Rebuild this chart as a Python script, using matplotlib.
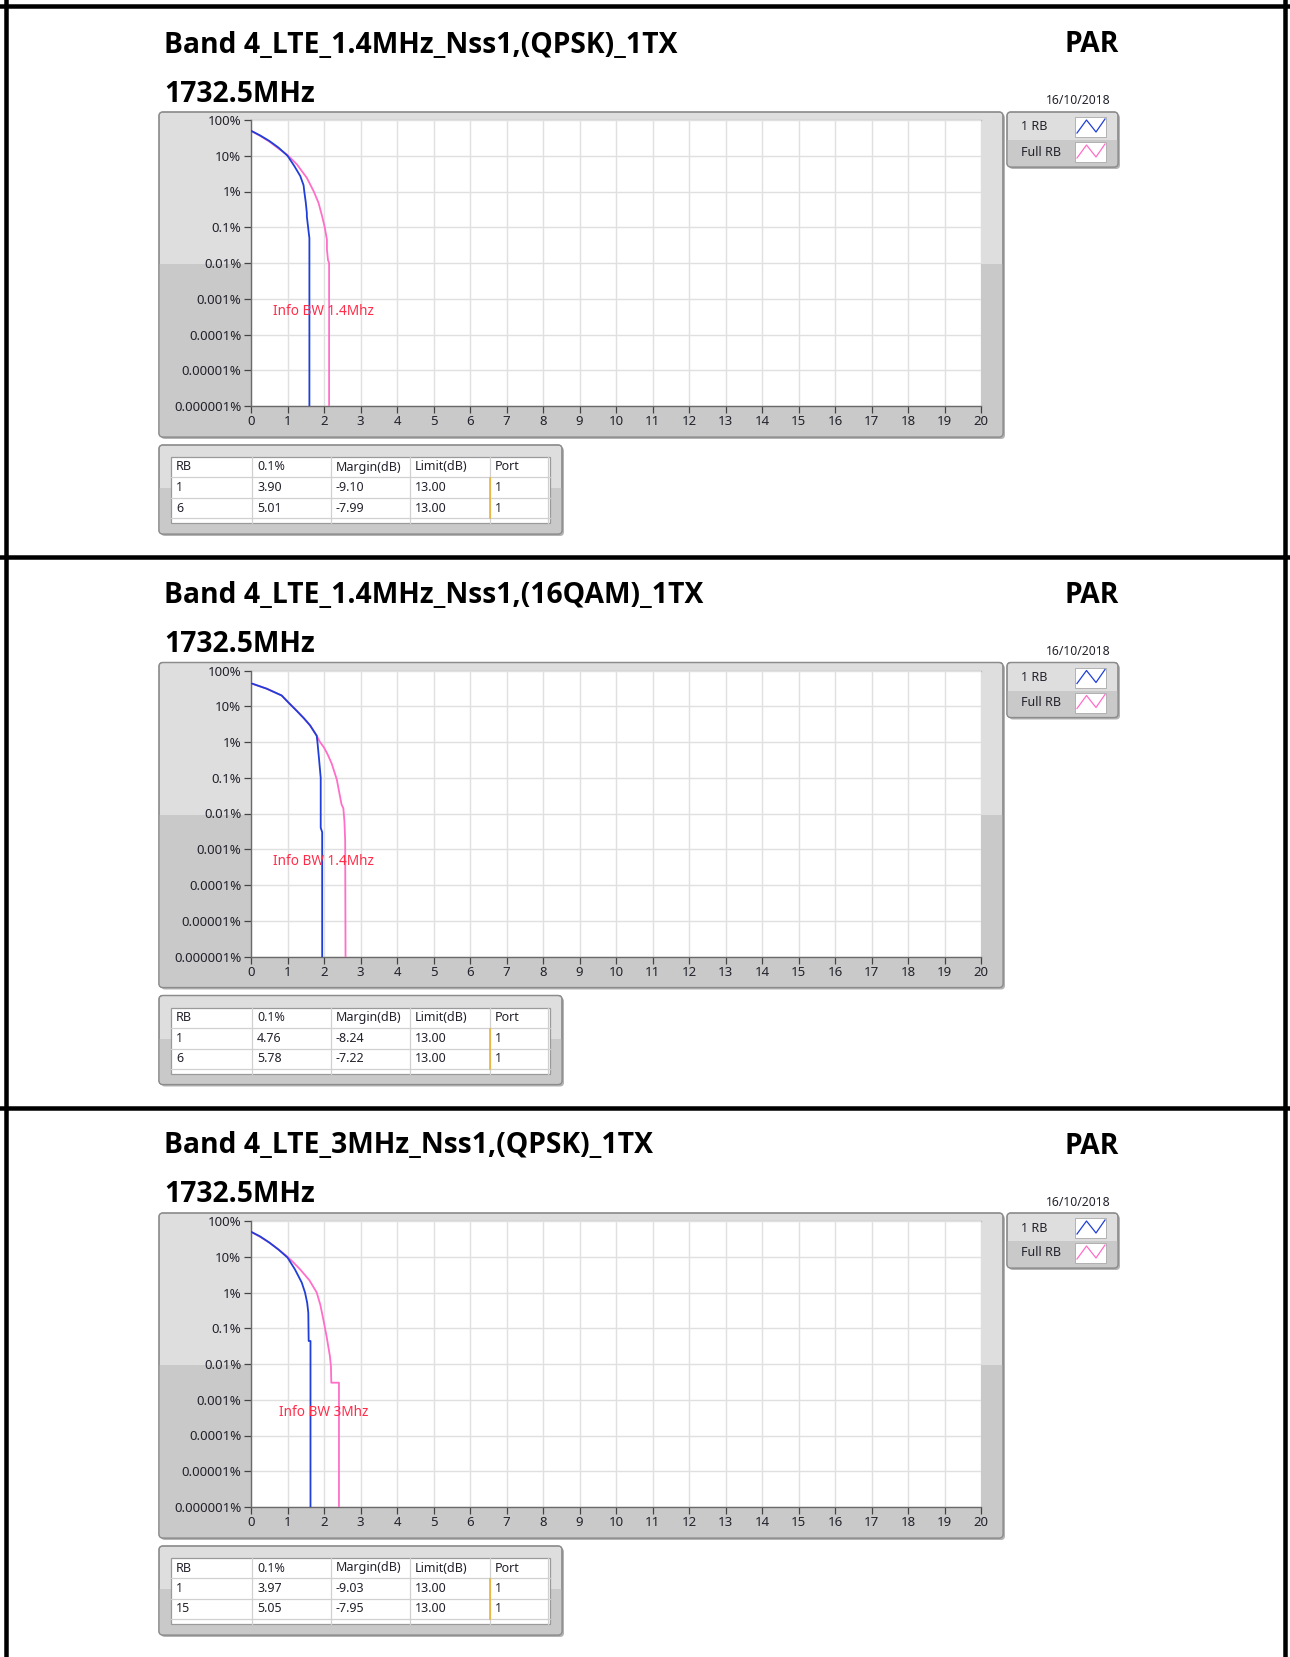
import matplotlib
matplotlib.use('Agg')
import matplotlib.pyplot as plt
from matplotlib.patches import FancyBboxPatch, Rectangle
from matplotlib.lines import Line2D

W, H = 1290, 1657
DPI = 100

# ---------------- data ----------------
titles = ["Band 4_LTE_1.4MHz_Nss1,(QPSK)_1TX",
          "Band 4_LTE_1.4MHz_Nss1,(16QAM)_1TX",
          "Band 4_LTE_3MHz_Nss1,(QPSK)_1TX"]
freq_label = "1732.5MHz"
right_label = "PAR"
date_label = "16/10/2018"
series_names = ["1 RB", "Full RB"]
info_labels = ["Info BW 1.4Mhz", "Info BW 1.4Mhz", "Info BW 3Mhz"]
info_x = [0.6, 0.6, 0.78]
info_y = 4.4e-4

# Section 1 (QPSK 1.4MHz)
s1_rb1_x = [0, 0.25, 0.5, 0.75, 1.0, 1.19, 1.35, 1.44, 1.46, 1.50, 1.53, 1.53, 1.59, 1.60, 1.60]
s1_rb1_y = [50, 37, 26, 17, 10, 5.1, 2.7, 1.5, 1.0, 0.5, 0.25, 0.2, 0.06, 0.05, 1e-6]
s1_full_x = [0, 0.25, 0.5, 0.75, 1.0, 1.26, 1.53, 1.72, 1.85, 1.95, 2.02, 2.08, 2.08, 2.11, 2.14, 2.14]
s1_full_y = [50, 36, 25, 16, 10.5, 5.7, 2.4, 1.0, 0.48, 0.2, 0.1, 0.045, 0.024, 0.012, 0.01, 1e-6]

# Section 2 (16QAM 1.4MHz)
s2_rb1_x = [0, 0.43, 0.84, 1.05, 1.25, 1.45, 1.62, 1.80, 1.82, 1.86, 1.91, 1.91, 1.95, 1.95]
s2_rb1_y = [44, 31, 20, 12, 7.5, 4.6, 2.9, 1.5, 1.0, 0.37, 0.1, 0.004, 0.003, 1e-6]
s2_full_x = [0, 0.43, 0.84, 1.05, 1.25, 1.45, 1.62, 1.80, 1.89, 2.0, 2.1, 2.21, 2.35, 2.48, 2.53, 2.56, 2.58, 2.59]
s2_full_y = [44, 31, 20, 12, 7.5, 4.6, 2.9, 1.5, 1.0, 0.7, 0.45, 0.25, 0.09, 0.018, 0.014, 0.006, 0.0017, 1e-6]

# Section 3 (QPSK 3MHz)
s3_rb1_x = [0, 0.25, 0.5, 0.75, 1.0, 1.2, 1.39, 1.48, 1.54, 1.57, 1.58, 1.63, 1.63]
s3_rb1_y = [50, 37, 25, 16, 9.5, 4.5, 1.9, 1.0, 0.51, 0.27, 0.044, 0.044, 1e-6]
s3_full_x = [0, 0.25, 0.5, 0.75, 1.0, 1.17, 1.34, 1.6, 1.8, 1.9, 1.98, 2.07, 2.16, 2.19, 2.2, 2.41, 2.41]
s3_full_y = [50, 36, 25, 16, 10, 6.8, 4.5, 2.2, 1.0, 0.45, 0.18, 0.06, 0.017, 0.0087, 0.003, 0.003, 1e-6]

rb1_x = [s1_rb1_x, s2_rb1_x, s3_rb1_x]
rb1_y = [s1_rb1_y, s2_rb1_y, s3_rb1_y]
full_x = [s1_full_x, s2_full_x, s3_full_x]
full_y = [s1_full_y, s2_full_y, s3_full_y]

y_ticks = [100, 10, 1, 0.1, 0.01, 0.001, 0.0001, 0.00001, 0.000001]
y_tick_labels = ["100%", "10%", "1%", "0.1%", "0.01%", "0.001%", "0.0001%", "0.00001%", "0.000001%"]
x_ticks = list(range(0, 21))

table_header = ["RB", "0.1%", "Margin(dB)", "Limit(dB)", "Port"]
t_rb = [["1", "6"], ["1", "6"], ["1", "15"]]
t_par = [["3.90", "5.01"], ["4.76", "5.78"], ["3.97", "5.05"]]
t_margin = [["-9.10", "-7.99"], ["-8.24", "-7.22"], ["-9.03", "-7.95"]]
t_limit = [["13.00", "13.00"], ["13.00", "13.00"], ["13.00", "13.00"]]
t_port = [["1", "1"], ["1", "1"], ["1", "1"]]

# ---------------- style ----------------
BLUE = '#1f3fd8'
PINK = '#ff6ec8'
INFO = '#ff2d4a'
PANEL_L = '#dedede'
PANEL_D = '#c9c9c9'
GRID = '#e0e0e0'
TXT = '#22222c'
TITLE_FONT = ['Open Sans', 'DejaVu Sans']
SMALL_FONT = ['Noto Sans', 'DejaVu Sans']
TITLE_SIZE = 20.3

fig = plt.figure(figsize=(W / DPI, H / DPI), dpi=DPI)
fig.patch.set_facecolor('white')
bg = fig.add_axes([0, 0, 1, 1])
bg.set_xlim(0, W)
bg.set_ylim(H, 0)
bg.axis('off')

SEC = 550.5


def panel(x0, y0, x1, y1, split, r=4):
    sh = FancyBboxPatch((x0 + 2 + r, y0 + 2 + r), x1 - x0 - 2 * r, y1 - y0 - 2 * r,
                        boxstyle=f"round,pad={r}", fc='#b4b4b4', ec='none', zorder=1)
    bg.add_patch(sh)
    p = FancyBboxPatch((x0 + r, y0 + r), x1 - x0 - 2 * r, y1 - y0 - 2 * r,
                       boxstyle=f"round,pad={r}", fc=PANEL_L, ec='#8c8c8c', lw=0.9, zorder=2)
    bg.add_patch(p)
    d = Rectangle((x0, split), x1 - x0, y1 - split, fc=PANEL_D, ec='none', zorder=2.1)
    d.set_clip_path(p)
    bg.add_patch(d)
    p2 = FancyBboxPatch((x0 + r, y0 + r), x1 - x0 - 2 * r, y1 - y0 - 2 * r,
                        boxstyle=f"round,pad={r}", fc='none', ec='#8c8c8c', lw=0.9, zorder=2.2)
    bg.add_patch(p2)


for i in range(3):
    dy = i * SEC
    # titles
    bg.text(164, 45 + dy, titles[i], fontsize=TITLE_SIZE, fontweight='bold', family=TITLE_FONT,
            ha='left', va='center', color='black', zorder=5)
    bg.text(1119, 45 + dy, right_label, fontsize=TITLE_SIZE, fontweight='bold', family=TITLE_FONT,
            ha='right', va='center', color='black', zorder=5)
    bg.text(164, 94 + dy, freq_label, fontsize=TITLE_SIZE, fontweight='bold', family=TITLE_FONT,
            ha='left', va='center', color='black', zorder=5)
    bg.text(1078, 101 + dy, date_label, fontsize=8.8, family=SMALL_FONT,
            ha='center', va='center', color=TXT, zorder=5)

    # graph panel
    panel(159, 112 + dy, 1003, 437 + dy, 264 + dy)
    bg.add_line(Line2D([251, 981], [120 + dy, 120 + dy], color='#bdbdbd', lw=1, zorder=3))

    # legend panel
    lx0, lx1, ly0, ly1 = 1007, 1118, 112 + dy, 167 + dy
    panel(lx0, ly0, lx1, ly1, 140 + dy)
    for k, name in enumerate(series_names):
        cy = 127 + dy + k * 25
        bg.text(1021, cy, name, fontsize=9, family=SMALL_FONT, ha='left', va='center',
                color=TXT, zorder=5)
        bg.add_patch(Rectangle((1075, cy - 10), 31, 20, fc='white', ec='#a8a8a8', lw=0.6, zorder=4))
        col = BLUE if k == 0 else PINK
        bg.add_line(Line2D([1077, 1086.5, 1096, 1105], [cy + 6, cy - 7, cy + 5, cy - 8],
                           color=col, lw=0.9, zorder=5))

    # table panel
    panel(159, 445 + dy, 562, 534 + dy, 488 + dy)
    tx0, tx1, ty0, ty1 = 171, 550, 457 + dy, 523 + dy
    bg.add_patch(Rectangle((tx0, ty0), tx1 - tx0, ty1 - ty0, fc='white', ec='#9a9a9a', lw=0.9, zorder=4))
    col_edges = [171, 252, 331, 410, 490, 548]
    row_edges = [457 + dy, 477 + dy, 498 + dy, 518 + dy]
    for ce in col_edges[1:]:
        bg.add_line(Line2D([ce, ce], [ty0, ty1], color='#d0d0d0', lw=0.9, zorder=5))
    for re_ in row_edges[1:]:
        bg.add_line(Line2D([tx0, tx1], [re_, re_], color='#d0d0d0', lw=0.9, zorder=5))
    bg.add_line(Line2D([490, 490], [row_edges[1] + 1, row_edges[3]], color='#f0b020', lw=1.1, zorder=6))
    for c, h in enumerate(table_header):
        bg.text(col_edges[c] + 5, (row_edges[0] + row_edges[1]) / 2, h, fontsize=9,
                family=SMALL_FONT, ha='left', va='center', color=TXT, zorder=7)
    cols = [t_rb[i], t_par[i], t_margin[i], t_limit[i], t_port[i]]
    for r in range(2):
        for c in range(5):
            bg.text(col_edges[c] + 5, (row_edges[r + 1] + row_edges[r + 2]) / 2, cols[c][r],
                    fontsize=9, family=SMALL_FONT, ha='left', va='center', color=TXT, zorder=7)

    # plot axes
    ax = fig.add_axes([251 / W, 1 - (406 + dy) / H, 730 / W, 286 / H])
    ax.set_zorder(10)
    ax.set_facecolor('white')
    ax.set_yscale('log')
    ax.set_xlim(0, 20)
    ax.set_ylim(1e-6, 100)
    ax.set_yticks(y_ticks)
    ax.set_yticklabels(y_tick_labels)
    ax.set_xticks(x_ticks)
    ax.set_xticklabels([str(v) for v in x_ticks])
    ax.minorticks_off()
    ax.grid(True, color=GRID, lw=1)
    ax.set_axisbelow(True)
    for s in ['top', 'right']:
        ax.spines[s].set_visible(False)
    for s in ['left', 'bottom']:
        ax.spines[s].set_color('#6a6a6a')
        ax.spines[s].set_linewidth(1)
    ax.tick_params(axis='both', direction='out', length=5, width=0.9, color='#444444',
                   labelsize=9.5, labelcolor=TXT, pad=2)
    ax.tick_params(axis='x', pad=1.5)
    for lab in ax.get_xticklabels() + ax.get_yticklabels():
        lab.set_family(SMALL_FONT)
    ax.plot(full_x[i], full_y[i], color=PINK, lw=1.3, zorder=3)
    ax.plot(rb1_x[i], rb1_y[i], color=BLUE, lw=1.3, zorder=4)
    ax.text(info_x[i], info_y, info_labels[i], color=INFO, fontsize=9.8, family=SMALL_FONT,
            ha='left', va='center', zorder=5)

# black frame
LW = 4.5 * 0.72
bg.add_line(Line2D([5.5, 5.5], [0, H], color='black', lw=LW, zorder=20))
bg.add_line(Line2D([1285, 1285], [0, H], color='black', lw=LW, zorder=20))
bg.add_line(Line2D([0, W], [6, 6], color='black', lw=LW, zorder=20))
for yy in [557, 1107.5]:
    bg.add_line(Line2D([0, W], [yy, yy], color='black', lw=LW, zorder=20))

fig.savefig('out.png', dpi=DPI, facecolor='white')
